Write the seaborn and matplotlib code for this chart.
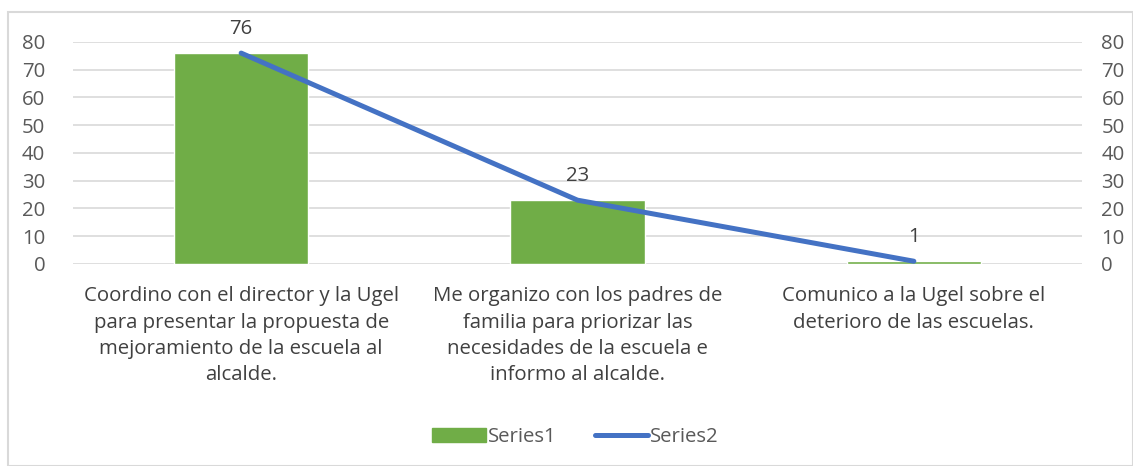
import matplotlib
matplotlib.use("Agg")
import matplotlib.pyplot as plt
import matplotlib.patches as mpatches
from matplotlib.lines import Line2D
import pandas as pd
import seaborn as sns

categories = [
    "Coordino con el director y la Ugel\npara presentar la propuesta de\nmejoramiento de la escuela al\nalcalde.",
    "Me organizo con los padres de\nfamilia para priorizar las\nnecesidades de la escuela e\ninformo al alcalde.",
    "Comunico a la Ugel sobre el\ndeterioro de las escuelas.",
]
series1 = [76, 23, 1]
series2 = [76, 23, 1]
yticks = [0, 10, 20, 30, 40, 50, 60, 70, 80]

sns.set_style("white")
plt.rcParams["font.family"] = ["Open Sans", "DejaVu Sans"]

df = pd.DataFrame({"cat": categories, "Series1": series1, "Series2": series2})

fig = plt.figure(figsize=(11.33, 4.66), dpi=100)
ax = fig.add_axes([0.0644, 0.4335, 0.8906, 0.4764])
text_color = "#595959"
fs = 14.7

sns.barplot(data=df, x="cat", y="Series1", color="#70AD47", width=0.4,
            saturation=1, ax=ax)
ax.set_ylim(0, 80)
ax.set_yticks(yticks)
ax.yaxis.grid(True, color="#D9D9D9", linewidth=1.2)
ax.set_axisbelow(True)
for s in ax.spines.values():
    s.set_visible(False)
ax.set_xlabel("")
ax.set_ylabel("")
ax.tick_params(axis="y", length=0, labelsize=fs, labelcolor=text_color, pad=20)
ax.tick_params(axis="x", length=0, labelsize=fs, labelcolor="#404040", pad=16)
for lbl in ax.get_xticklabels():
    lbl.set_linespacing(1.42)
for i, v in enumerate(series1):
    ax.annotate(str(v), (i, v), xytext=(0, 10), textcoords="offset points",
                ha="center", va="bottom", fontsize=fs, color="#404040")

ax2 = ax.twinx()
sns.lineplot(x=range(len(series2)), y=series2, color="#4472C4", linewidth=3.6,
             solid_capstyle="round", ax=ax2)
ax2.set_ylim(0, 80)
ax2.set_yticks(yticks)
for s in ax2.spines.values():
    s.set_visible(False)
ax2.tick_params(axis="y", length=0, labelsize=fs, labelcolor=text_color, pad=14)
ax2.set_xlim(-0.5, 2.5)
ax.set_xlim(-0.5, 2.5)

handles = [mpatches.Patch(color="#70AD47", label="Series1"),
           Line2D([0], [0], color="#4472C4", linewidth=3.6, solid_capstyle="round", label="Series2")]
fig.legend(handles=handles, loc="center", bbox_to_anchor=(0.508, 0.062), ncol=2,
           frameon=False, fontsize=fs, labelcolor=text_color, handlelength=2.6,
           handletextpad=0.1, columnspacing=1.9)

fig.patches.append(mpatches.Rectangle((8 / 1133, 0), 1 - 8 / 1133, 1 - 12 / 466,
                                      transform=fig.transFigure, fill=False,
                                      edgecolor="#D9D9D9", linewidth=1.5))
fig.savefig("out.png", dpi=100)
